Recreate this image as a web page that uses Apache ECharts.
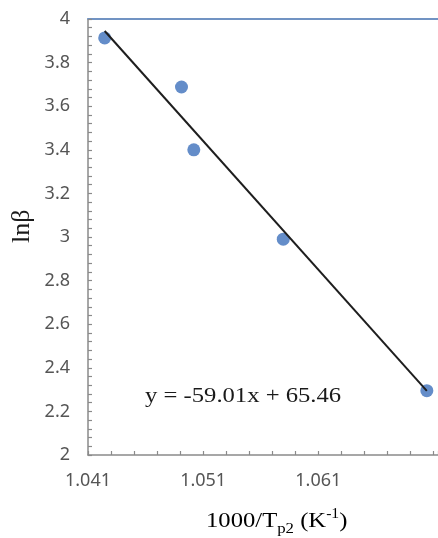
<!DOCTYPE html>
<html>
<head>
<meta charset="utf-8">
<script src="https://cdn.jsdelivr.net/npm/echarts@6/dist/echarts.min.js"></script>
<style>
html,body{margin:0;padding:0;background:#fff;}
#c{width:438px;height:538px;}
</style>
</head>
<body>
<div id="c"></div>
<script>
// Data
const xValues = [1.04245, 1.04912, 1.05019, 1.05796, 1.07043];
const yValues = [3.913, 3.688, 3.400, 2.990, 2.295];
const trendSlope = -59.01;
const trendIntercept = 65.46;
const equationText = 'y = -59.01x + 65.46';
const xTicks = [1.041, 1.051, 1.061];
const yTicks = [2, 2.2, 2.4, 2.6, 2.8, 3, 3.2, 3.4, 3.6, 3.8, 4];

const points = xValues.map((x, i) => [x, yValues[i]]);
const xMin = Math.min(...xValues), xMax = Math.max(...xValues);
const trend = [xMin, xMax].map(x => [x, trendSlope * x + trendIntercept]);

const chart = echarts.init(document.getElementById('c'), null, {renderer: 'canvas'});
const labelFont = {fontFamily: 'Noto Sans', fontSize: 18, color: '#555555'};

chart.setOption({
  animation: false,
  backgroundColor: '#ffffff',
  grid: {left: 88, top: 19, right: 0, bottom: 83, containLabel: false},
  xAxis: [{
    type: 'value',
    min: xTicks[0],
    max: 1.0714,
    interval: 0.01,
    axisLine: {show: true, onZero: false, lineStyle: {color: '#8a8a8a', width: 1.5}},
    axisTick: {show: true, inside: true, length: 4, lineStyle: {color: '#8a8a8a', width: 1.2}},
    minorTick: {show: true, splitNumber: 5, length: 4, lineStyle: {color: '#8a8a8a', width: 1.2}},
    splitLine: {show: false},
    axisLabel: Object.assign({
      margin: 17,
      showMaxLabel: false,
      formatter: v => xTicks.some(t => Math.abs(t - v) < 1e-6) ? v.toFixed(3) : ''
    }, labelFont)
  }, {
    type: 'value',
    position: 'top',
    min: xTicks[0],
    max: 1.0714,
    axisLine: {show: true, lineStyle: {color: '#7193c3', width: 2}},
    axisTick: {show: false},
    axisLabel: {show: false},
    splitLine: {show: false}
  }],
  yAxis: {
    type: 'value',
    min: yTicks[0],
    max: yTicks[yTicks.length - 1],
    interval: 0.2,
    axisLine: {show: true, onZero: false, lineStyle: {color: '#8a8a8a', width: 1.5}},
    axisTick: {show: true, inside: true, length: 4, lineStyle: {color: '#8a8a8a', width: 1.2}},
    minorTick: {show: true, splitNumber: 5, length: 4, lineStyle: {color: '#8a8a8a', width: 1.2}},
    splitLine: {show: false},
    axisLabel: Object.assign({margin: 18, formatter: v => String(+v.toFixed(1))}, labelFont)
  },
  series: [{
    type: 'line',
    data: trend,
    symbol: 'none',
    lineStyle: {color: '#1e1e1e', width: 2},
    z: 3
  }, {
    type: 'scatter',
    data: points,
    symbolSize: 13,
    itemStyle: {color: '#3d71bb'},
    z: 2
  }],
  graphic: [{
    type: 'text',
    left: 145, top: 385,
    scaleX: 1.12,
    style: {text: equationText, font: '22px "Liberation Serif"', fill: '#1a1a1a'}
  }, {
    type: 'text',
    x: 9, y: 243,
    rotation: Math.PI / 2,
    style: {text: 'lnβ', font: '26px "Liberation Serif"', fill: '#1a1a1a', textAlign: 'left', textVerticalAlign: 'top'}
  }, {
    type: 'text',
    left: 206, top: 507,
    scaleX: 1.12,
    style: {
      text: '{a|1000/T}{s|p2}{a| (K}{p|-1}{a|)}',
      rich: {
        a: {fontFamily: 'Liberation Serif', fontSize: 22, color: '#1a1a1a', verticalAlign: 'bottom'},
        s: {fontFamily: 'Liberation Serif', fontSize: 15, color: '#1a1a1a', padding: [0, 0, -5, 0], verticalAlign: 'bottom'},
        p: {fontFamily: 'Liberation Serif', fontSize: 14, color: '#1a1a1a', padding: [0, 0, 11, 0], verticalAlign: 'bottom'}
      }
    }
  }]
});
</script>
</body>
</html>
